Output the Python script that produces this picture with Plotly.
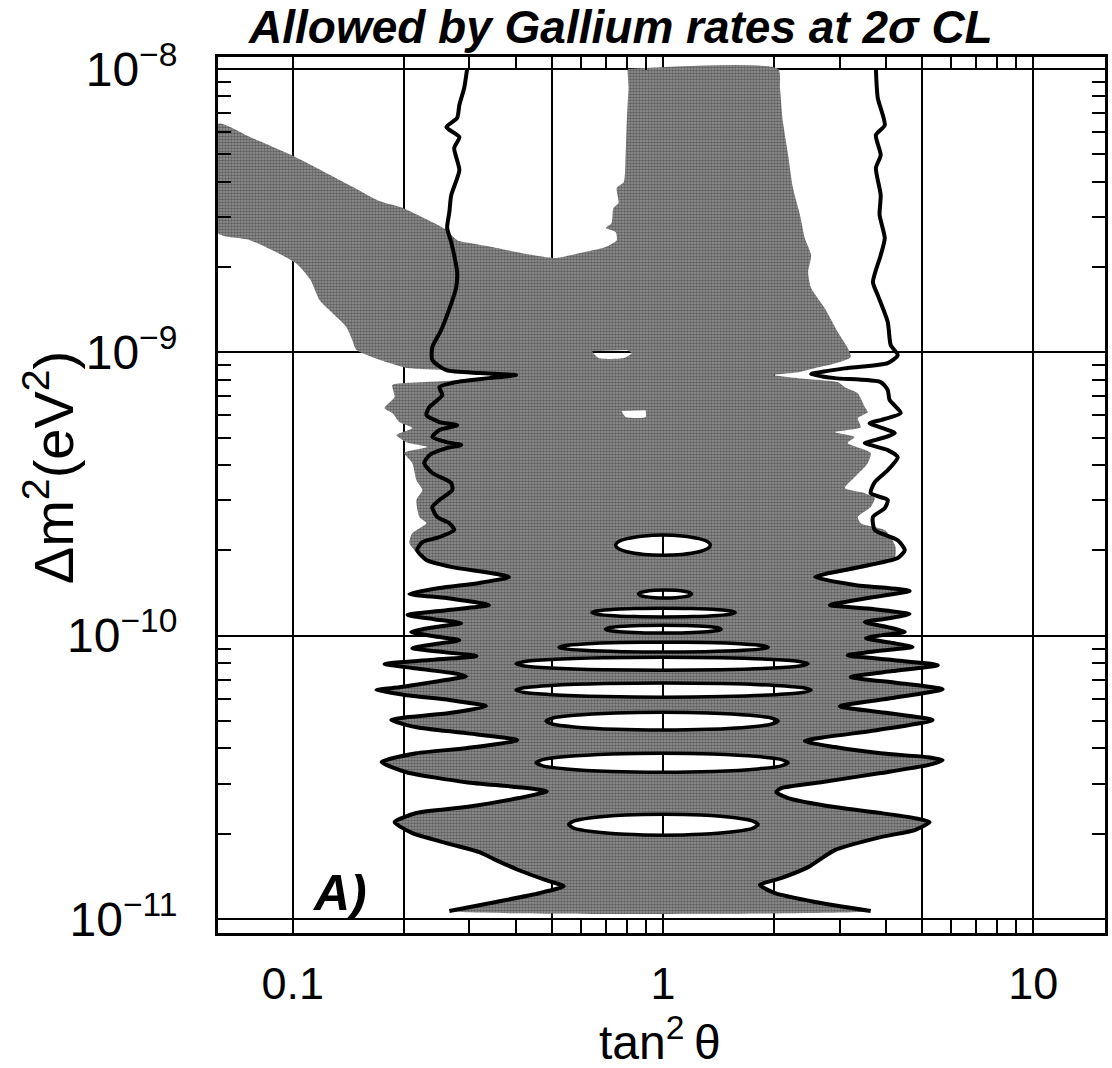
import plotly.graph_objects as go

FONT = "Liberation Sans, Arial, Helvetica, sans-serif"

# Outer 2-sigma contour, left branch, top to bottom (log10 tan^2(theta), log10 dm^2/eV^2)
left_log_tan2 = [-0.529, -0.537, -0.550, -0.556, -0.585, -0.550, -0.564, -0.550, -0.572, -0.577,
                 -0.583, -0.572, -0.564, -0.556, -0.559, -0.583, -0.599, -0.623, -0.623, -0.585,
                 -0.496, -0.397, -0.470, -0.559, -0.604, -0.596, -0.631, -0.639, -0.604, -0.556,
                 -0.604, -0.623, -0.585, -0.545, -0.585, -0.631, -0.645, -0.623, -0.572, -0.569,
                 -0.604, -0.623, -0.610, -0.577, -0.564, -0.604, -0.650, -0.664, -0.639, -0.569,
                 -0.478, -0.416, -0.496, -0.604, -0.685, -0.585, -0.470, -0.585, -0.690, -0.618,
                 -0.545, -0.618, -0.680, -0.618, -0.550, -0.618, -0.677, -0.591, -0.504, -0.631,
                 -0.752, -0.677, -0.569, -0.532, -0.623, -0.712, -0.774, -0.693, -0.577, -0.478,
                 -0.577, -0.693, -0.734, -0.666, -0.532, -0.394, -0.532, -0.666, -0.760, -0.693,
                 -0.532, -0.397, -0.314, -0.389, -0.532, -0.666, -0.725, -0.677, -0.585, -0.496,
                 -0.451, -0.389, -0.316, -0.268, -0.335, -0.451, -0.577]
left_log_dm2 = [-8.000, -8.067, -8.127, -8.173, -8.205, -8.240, -8.279, -8.357, -8.445, -8.505,
                -8.561, -8.611, -8.657, -8.717, -8.773, -8.868, -8.921, -8.981, -9.027, -9.063,
                -9.073, -9.080, -9.091, -9.105, -9.123, -9.151, -9.193, -9.221, -9.246, -9.257,
                -9.274, -9.299, -9.317, -9.327, -9.338, -9.363, -9.391, -9.426, -9.461, -9.486,
                -9.521, -9.546, -9.581, -9.603, -9.627, -9.652, -9.670, -9.698, -9.733, -9.758,
                -9.776, -9.793, -9.814, -9.832, -9.853, -9.867, -9.892, -9.910, -9.927, -9.942,
                -9.956, -9.970, -9.987, -10.002, -10.016, -10.030, -10.044, -10.058, -10.072, -10.086,
                -10.100, -10.114, -10.132, -10.143, -10.164, -10.182, -10.192, -10.210, -10.227, -10.249,
                -10.273, -10.288, -10.298, -10.323, -10.344, -10.369, -10.397, -10.415, -10.446, -10.482,
                -10.517, -10.534, -10.549, -10.573, -10.605, -10.626, -10.658, -10.697, -10.732, -10.764,
                -10.792, -10.828, -10.863, -10.884, -10.909, -10.940, -10.972]

# Outer 2-sigma contour, right branch, top to bottom
right_log_tan2 = [0.575, 0.580, 0.599, 0.575, 0.588, 0.575, 0.588, 0.585, 0.599, 0.588,
                  0.567, 0.580, 0.607, 0.615, 0.634, 0.607, 0.499, 0.400, 0.464, 0.588,
                  0.607, 0.612, 0.642, 0.588, 0.558, 0.626, 0.572, 0.545, 0.607, 0.634,
                  0.607, 0.572, 0.561, 0.607, 0.599, 0.567, 0.572, 0.634, 0.653, 0.634,
                  0.518, 0.411, 0.518, 0.666, 0.553, 0.451, 0.567, 0.666, 0.593, 0.545,
                  0.607, 0.653, 0.593, 0.548, 0.620, 0.674, 0.580, 0.499, 0.620, 0.742,
                  0.620, 0.507, 0.634, 0.755, 0.620, 0.478, 0.607, 0.728, 0.580, 0.383,
                  0.464, 0.588, 0.715, 0.755, 0.715, 0.588, 0.427, 0.319, 0.306, 0.338,
                  0.464, 0.588, 0.680, 0.720, 0.680, 0.588, 0.464, 0.392, 0.319, 0.262,
                  0.303, 0.411, 0.561]
right_log_dm2 = [-8.000, -8.102, -8.198, -8.233, -8.304, -8.349, -8.445, -8.515, -8.597, -8.657,
                 -8.752, -8.798, -8.893, -8.974, -9.010, -9.038, -9.055, -9.077, -9.091, -9.105,
                 -9.133, -9.168, -9.214, -9.239, -9.250, -9.285, -9.310, -9.320, -9.345, -9.370,
                 -9.416, -9.458, -9.497, -9.521, -9.550, -9.581, -9.627, -9.663, -9.698, -9.726,
                 -9.761, -9.793, -9.821, -9.842, -9.867, -9.892, -9.906, -9.924, -9.942, -9.952,
                 -9.970, -9.987, -9.998, -10.009, -10.026, -10.040, -10.054, -10.069, -10.086, -10.104,
                 -10.125, -10.146, -10.167, -10.189, -10.220, -10.249, -10.273, -10.298, -10.333, -10.372,
                 -10.393, -10.415, -10.429, -10.439, -10.457, -10.485, -10.517, -10.538, -10.552, -10.573,
                 -10.605, -10.626, -10.644, -10.658, -10.686, -10.711, -10.757, -10.817, -10.856, -10.880,
                 -10.909, -10.940, -10.972]

# Tip of the innermost spike on each branch, where the lower shaded lobe region starts
LEFT_TIP = 51
RIGHT_TIP = 41

# Shaded region above the lobes (band, column and central body)
upper_log_tan2 = [-0.096, 0.311, 0.316, 0.324, 0.338, 0.351, 0.370, 0.383, 0.400, 0.392,
                  0.400, 0.437, 0.472, 0.499, 0.507, 0.459, 0.411, 0.365, 0.297, 0.365,
                  0.472, 0.491, 0.526, 0.545, 0.553, 0.526, 0.534, 0.464, 0.518, 0.499,
                  0.561, 0.553, 0.518, 0.491, 0.545, 0.572, 0.561, 0.526, 0.534, 0.599,
                  0.615, 0.628, 0.626, 0.580, 0.518, 0.445, 0.411, -0.416, -0.478, -0.569,
                  -0.639, -0.664, -0.685, -0.677, -0.639, -0.658, -0.666, -0.650, -0.666, -0.677,
                  -0.699, -0.637, -0.693, -0.720, -0.677, -0.712, -0.731, -0.752, -0.725, -0.731,
                  -0.693, -0.585, -0.470, -0.404, -0.470, -0.585, -0.693, -0.712, -0.747, -0.785,
                  -0.828, -0.839, -0.855, -0.893, -0.928, -0.952, -0.992, -1.116, -1.202, -1.202,
                  -1.116, -0.992, -0.836, -0.766, -0.701, -0.639, -0.588, -0.556, -0.523, -0.462,
                  -0.381, -0.289, -0.227, -0.155, -0.125, -0.128, -0.155, -0.139, -0.134, -0.120,
                  -0.125, -0.106, -0.101, -0.098, -0.093]
upper_log_dm2 = [-8.000, -8.000, -8.067, -8.187, -8.304, -8.420, -8.515, -8.597, -8.657, -8.717,
                 -8.773, -8.844, -8.928, -8.985, -9.017, -9.041, -9.055, -9.070, -9.080, -9.091,
                 -9.105, -9.123, -9.144, -9.193, -9.211, -9.232, -9.264, -9.281, -9.299, -9.320,
                 -9.355, -9.391, -9.440, -9.479, -9.497, -9.514, -9.546, -9.581, -9.603, -9.627,
                 -9.652, -9.687, -9.726, -9.751, -9.769, -9.786, -9.797, -9.797, -9.779, -9.761,
                 -9.737, -9.709, -9.673, -9.638, -9.603, -9.581, -9.521, -9.486, -9.451, -9.391,
                 -9.355, -9.334, -9.317, -9.292, -9.267, -9.246, -9.214, -9.197, -9.158, -9.115,
                 -9.108, -9.101, -9.087, -9.080, -9.073, -9.063, -9.055, -9.048, -9.034, -9.017,
                 -8.992, -8.957, -8.911, -8.861, -8.815, -8.745, -8.685, -8.604, -8.579, -8.194,
                 -8.240, -8.311, -8.417, -8.466, -8.491, -8.530, -8.565, -8.604, -8.614, -8.628,
                 -8.650, -8.667, -8.650, -8.628, -8.604, -8.575, -8.561, -8.544, -8.491, -8.473,
                 -8.420, -8.399, -8.304, -8.187, -8.067]

# Excluded islands around maximal mixing (extent of each lens)
lens_log_tan2_left = [-0.128, -0.066, -0.192, -0.155, -0.281, -0.397, -0.397, -0.316, -0.343, -0.255]
lens_log_tan2_right = [0.128, 0.077, 0.195, 0.157, 0.284, 0.392, 0.400, 0.311, 0.338, 0.257]
lens_log_dm2_top = [-9.645, -9.839, -9.903, -9.963, -10.023, -10.076, -10.167, -10.270, -10.415, -10.630]
lens_log_dm2_bottom = [-9.716, -9.867, -9.934, -9.991, -10.058, -10.122, -10.217, -10.333, -10.482, -10.704]

# Two small gaps in the upper body
gap1_log_tan2 = [-0.192, -0.174, -0.106, -0.085, -0.098]
gap1_log_dm2 = [-8.996, -9.020, -9.020, -9.003, -8.992]
gap2_log_tan2 = [-0.112, -0.101, -0.047, -0.047]
gap2_log_dm2 = [-9.207, -9.228, -9.228, -9.204]

# Axis ticks
x_label_vals = [0.1, 1, 10]
x_label_text = ["0.1", "1", "10"]
x_extra_grid = [0.2, 0.5, 2, 5]
x_minor = [0.3, 0.4, 0.6, 0.7, 0.8, 0.9, 3, 4, 6, 7, 8, 9]
y_tickvals = [1e-11, 1e-10, 1e-9, 1e-8]
y_ticktext = ["10<sup>\u221211</sup>", "10<sup>\u221210</sup>", "10<sup>\u22129</sup>", "10<sup>\u22128</sup>"]
y_minor = [m * 10.0 ** e for e in (-11, -10, -9) for m in range(2, 10)]

X_RANGE = [-1.2019, 1.1938]
Y_RANGE = [-11.0494, -7.9576]

# Lens outline template: fraction along the width, signed fraction of the half height
LENS_T = [0.5, 0.7, 0.88, 0.97, 1.0, 0.97, 0.88, 0.7, 0.5, 0.3, 0.12, 0.03, 0.0, 0.03, 0.12, 0.3, 0.5]
LENS_H = [1.0, 0.92, 0.65, 0.35, 0.0, -0.35, -0.65, -0.92, -1.0, -0.92, -0.65, -0.35, 0.0, 0.35, 0.65, 0.92, 1.0]


def lens_path(i, reverse=False):
    xl, xr = lens_log_tan2_left[i], lens_log_tan2_right[i]
    yt, yb = lens_log_dm2_top[i], lens_log_dm2_bottom[i]
    yc, hh = (yt + yb) / 2, (yt - yb) / 2
    xs = [xl + t * (xr - xl) for t in LENS_T]
    ys = [yc + h * hh for h in LENS_H]
    if reverse:
        xs, ys = xs[::-1], ys[::-1]
    return xs, ys


def joined(paths):
    xs, ys = [], []
    for k, (px, py) in enumerate(paths):
        if k:
            xs.append(None)
            ys.append(None)
        xs += px
        ys += py
    return xs, ys


def lin(vals):
    return [None if v is None else 10.0 ** v for v in vals]


GRAY_PATTERN = dict(shape=".", fgcolor="#2c2c2c", bgcolor="#949494", size=3, solidity=0.55)
SMOOTH = 0.6

# Upper shaded region: outer edge clockwise, gaps counter-clockwise
upper_paths = [(upper_log_tan2, upper_log_dm2), lens_path(0, reverse=True),
               (gap1_log_tan2, gap1_log_dm2), (gap2_log_tan2, gap2_log_dm2)]
ux, uy = joined(upper_paths)

# Lobe region bounded by the contour: outer edge counter-clockwise, islands clockwise
lobe_x = left_log_tan2[LEFT_TIP:] + right_log_tan2[RIGHT_TIP:][::-1]
lobe_y = left_log_dm2[LEFT_TIP:] + right_log_dm2[RIGHT_TIP:][::-1]
lobe_paths = [(lobe_x, lobe_y)] + [lens_path(i) for i in range(1, len(lens_log_tan2_left))]
lx_, ly_ = joined(lobe_paths)

fig = go.Figure()
for xs, ys in ((ux, uy), (lx_, ly_)):
    fig.add_trace(go.Scatter(
        x=lin(xs), y=lin(ys), mode="lines", fill="toself",
        fillcolor="#858585", fillpattern=GRAY_PATTERN,
        line=dict(width=0, shape="spline", smoothing=SMOOTH),
        hoverinfo="skip"))

for xs, ys in ((left_log_tan2, left_log_dm2), (right_log_tan2, right_log_dm2)):
    fig.add_trace(go.Scatter(
        x=lin(xs), y=lin(ys), mode="lines",
        line=dict(color="black", width=4, shape="spline", smoothing=SMOOTH),
        hoverinfo="skip"))

ox, oy = joined([lens_path(i) for i in range(len(lens_log_tan2_left))])
fig.add_trace(go.Scatter(
    x=lin(ox), y=lin(oy), mode="lines",
    line=dict(color="black", width=3.5, shape="spline", smoothing=SMOOTH),
    hoverinfo="skip"))

# empty trace that carries the secondary grid axis
fig.add_trace(go.Scatter(x=[], y=[], xaxis="x2", yaxis="y", hoverinfo="skip"))

axis_common = dict(
    type="log", showline=True, linecolor="black", linewidth=3, mirror="allticks",
    showgrid=True, gridcolor="black", gridwidth=2, ticks="", zeroline=False,
    tickcolor="black",
)

fig.update_layout(
    xaxis=dict(
        **axis_common, range=X_RANGE,
        tickmode="array", tickvals=x_label_vals, ticktext=x_label_text,
        tickfont=dict(family=FONT, size=45, color="black"), ticklabelstandoff=9,
        minor=dict(tickmode="array", tickvals=x_minor, ticks="inside", ticklen=13,
                   tickwidth=2, tickcolor="black", showgrid=False),
    ),
    xaxis2=dict(
        type="log", overlaying="x", range=X_RANGE, side="bottom",
        tickmode="array", tickvals=x_extra_grid, showticklabels=False, ticks="",
        showgrid=True, gridcolor="black", gridwidth=2, showline=False, zeroline=False,
    ),
    yaxis=dict(
        **axis_common, range=Y_RANGE,
        tickmode="array", tickvals=y_tickvals, ticktext=y_ticktext,
        tickfont=dict(family=FONT, size=48, color="black"), ticklabelstandoff=28,
        minor=dict(tickmode="array", tickvals=y_minor, ticks="inside", ticklen=13,
                   tickwidth=2, tickcolor="black", showgrid=False),
    ),
)

fig.update_layout(
    width=1112, height=1068,
    margin=dict(l=218, r=4, t=57, b=135),
    paper_bgcolor="white", plot_bgcolor="white",
    showlegend=False,
    annotations=[
        dict(text="<b><i>Allowed by Gallium rates at 2\u03c3 CL</i></b>",
             xref="paper", yref="paper", x=0.4534, y=1.0342,
             xanchor="center", yanchor="middle", showarrow=False,
             font=dict(family=FONT, size=46, color="black")),
        dict(text="tan<sup>2</sup>\u2009\u03b8",
             xref="paper", yref="paper", x=0.498, y=-0.121,
             xanchor="center", yanchor="middle", showarrow=False,
             font=dict(family=FONT, size=48, color="black")),
        dict(text="\u0394m<sup>2</sup>(eV<sup>2</sup>)",
             xref="paper", yref="paper", x=-0.189, y=0.531, textangle=-90,
             xanchor="center", yanchor="middle", showarrow=False,
             font=dict(family=FONT, size=56, color="black")),
        dict(text="<b><i>A)</i></b>",
             xref="x", yref="y", x=-0.8735, y=-10.909,
             xanchor="center", yanchor="middle", showarrow=False,
             font=dict(family=FONT, size=50, color="black")),
    ],
)

fig.write_html("out.html")
